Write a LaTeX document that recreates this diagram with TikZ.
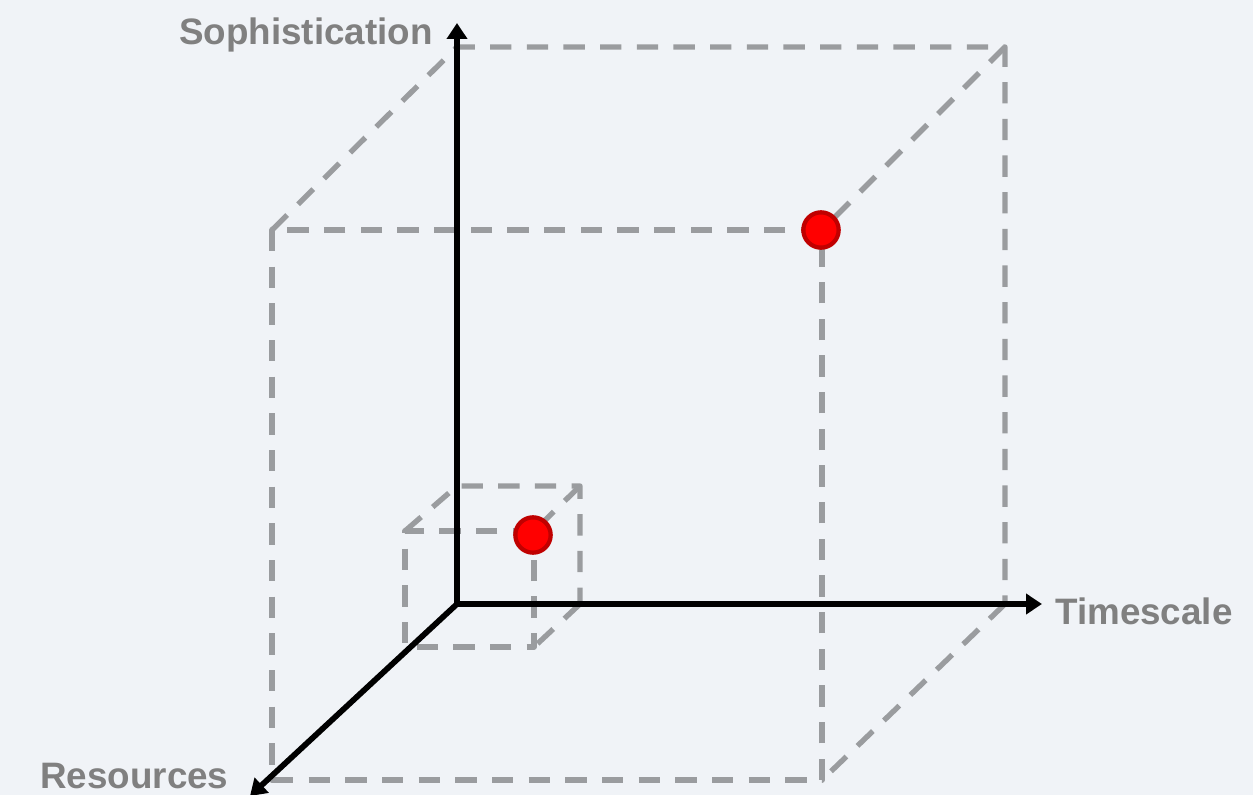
\documentclass[tikz,border=0pt]{standalone}
\usepackage{fontspec}
\setmainfont{Liberation Sans}
\usetikzlibrary{arrows.meta}
\definecolor{bgc}{HTML}{F0F3F7}
\definecolor{dashc}{HTML}{9A9C9F}
\definecolor{labc}{HTML}{808080}
\definecolor{dotfill}{HTML}{FF0000}
\definecolor{dotedge}{HTML}{C00000}
\begin{document}
\begin{tikzpicture}[x=0.75pt,y=-0.75pt,
  axis/.style={line width=4.3pt,black,-{Triangle[length=12pt,width=15pt]}},
  edge/.style={line width=4pt,dashc,dash pattern=on 16pt off 11.5pt,line join=round},
  lab/.style={text=labc,font=\fontsize{27.6}{30}\selectfont\bfseries,inner sep=0pt},
  dot/.style={circle,draw=dotedge,fill=dotfill,line width=3.2pt,minimum size=26.5pt,inner sep=0pt}]
\fill[bgc] (0,0) rectangle (1253,795);
\useasboundingbox (0,0) rectangle (1253,795);
% big cube corners
\coordinate (O) at (457,604);
\coordinate (bTL) at (457,47);
\coordinate (bTR) at (1005,47);
\coordinate (bBR) at (1005,604);
\coordinate (fTL) at (272,230);
\coordinate (fTR) at (822,230);
\coordinate (fBL) at (272,780);
\coordinate (fBR) at (822,780);
% small cube corners
\coordinate (sTL) at (457,486);
\coordinate (sTR) at (580,486);
\coordinate (sBR) at (580,604);
\coordinate (sfTL) at (405,531);
\coordinate (sfTR) at (534,531);
\coordinate (sfBL) at (405,647);
\coordinate (sfBR) at (534,647);
% big cube dashed edges
\draw[edge] (fTL) -- (bTL) -- (bTR) -- (bBR);
\draw[edge] (bTR) -- (fTR);
\draw[edge] (bBR) -- (fBR);
\draw[edge] (fTR) -- (fTL) -- (fBL) -- (fBR) -- (fTR);
% small cube dashed edges
\draw[edge] (sfTL) -- (sTL) -- (sTR) -- (sBR);
\draw[edge] (sTR) -- (sfTR);
\draw[edge] (sBR) -- (sfBR);
\draw[edge] (sfTR) -- (sfTL) -- (sfBL) -- (sfBR) -- (sfTR);
% axes
\coordinate (yEnd) at (457,23);
\coordinate (xEnd) at (1042,604);
\coordinate (zEnd) at (250,796);
\draw[axis] (O) -- (yEnd);
\draw[axis] (O) -- (xEnd);
\draw[axis] (O) -- (zEnd);
% labels
\node[lab,anchor=east] (soph) at (433,35) {Sophistication};
\node[lab,anchor=west] (time) at (1055,611) {Timescale};
\node[lab,anchor=west] (res) at (40,776) {Resources};
% dots
\node[dot] (d1) at (821,230) {};
\node[dot] (d2) at (533,535) {};
\end{tikzpicture}
\end{document}
